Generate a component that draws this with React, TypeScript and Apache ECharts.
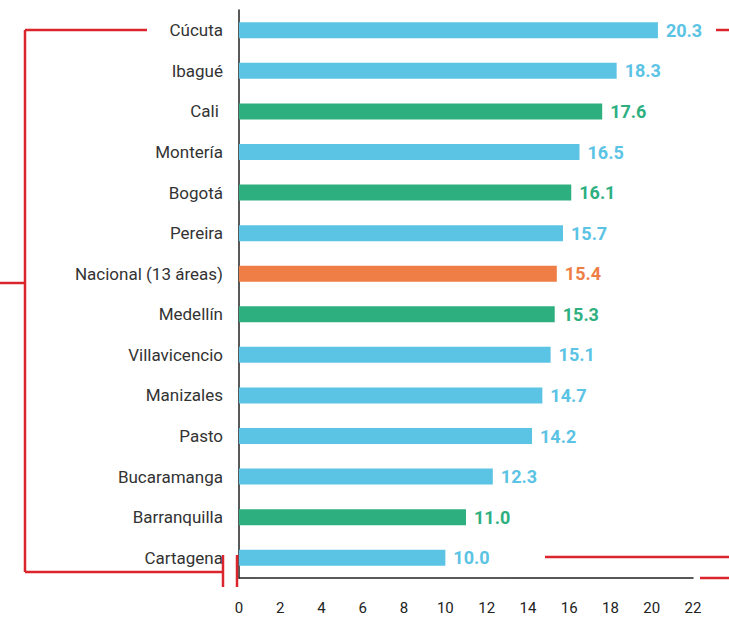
import React, { useEffect, useRef } from "react";
import * as echarts from "echarts";

const cities = [
  "Cúcuta",
  "Ibagué",
  "Cali ",
  "Montería",
  "Bogotá",
  "Pereira",
  "Nacional (13 áreas)",
  "Medellín",
  "Villavicencio",
  "Manizales",
  "Pasto",
  "Bucaramanga",
  "Barranquilla",
  "Cartagena",
];
const rates = [20.3, 18.3, 17.6, 16.5, 16.1, 15.7, 15.4, 15.3, 15.1, 14.7, 14.2, 12.3, 11.0, 10.0];
const groups = ["c", "c", "g", "c", "g", "c", "o", "g", "c", "c", "c", "c", "g", "c"];

const BLUE = "#5BC3E4";
const GREEN = "#2EAF7F";
const ORANGE = "#EE7E45";
const RED = "#D9252B";
const FONT = "Roboto";

const colorOf = (g: string) => (g === "g" ? GREEN : g === "o" ? ORANGE : BLUE);

export default function App() {
  const ref = useRef<HTMLDivElement>(null);
  useEffect(() => {
    if (!ref.current) return;
    const chart = echarts.init(ref.current, null, { renderer: "svg" });
    const redLine = (x1: number, y1: number, x2: number, y2: number) => ({
      type: "line",
      shape: { x1, y1, x2, y2 },
      style: { stroke: RED, lineWidth: 2.5 },
      z: 10,
    });
    chart.setOption({
      animation: false,
      grid: { left: 239, right: 36, top: 10, bottom: 39, containLabel: false },
      xAxis: {
        type: "value",
        min: 0,
        max: 22,
        interval: 2,
        splitLine: { show: false },
        axisTick: { show: false },
        axisLine: { show: true, lineStyle: { color: "#222", width: 1.5 } },
        axisLabel: { color: "#222", fontSize: 15, fontFamily: FONT, margin: 22 },
      },
      yAxis: {
        type: "category",
        data: cities,
        inverse: true,
        axisTick: { show: false },
        axisLine: { show: true, lineStyle: { color: "#222", width: 1.5 } },
        axisLabel: { color: "#333", fontSize: 17, fontFamily: FONT, margin: 16 },
      },
      series: [
        {
          type: "bar",
          barWidth: 16,
          data: rates.map((v, i) => ({
            value: v,
            itemStyle: { color: colorOf(groups[i]) },
            label: { color: colorOf(groups[i]) },
          })),
          label: {
            show: true,
            position: "right",
            distance: 8,
            fontSize: 18,
            fontWeight: "bold",
            fontFamily: FONT,
            formatter: (p: any) => Number(p.value).toFixed(1),
          },
        },
      ],
      graphic: [
        redLine(25, 30, 147, 30),
        redLine(25, 30, 25, 572),
        redLine(25, 572, 223, 572),
        redLine(0, 283, 25, 283),
        redLine(223, 555, 223, 587),
        redLine(237, 555, 237, 587),
        redLine(716, 30, 729, 30),
        redLine(545, 557, 729, 557),
        redLine(700, 578, 729, 578),
      ],
    });
    return () => chart.dispose();
  }, []);
  return <div ref={ref} style={{ width: 729, height: 617, position: "absolute", left: 0, top: 0 }} />;
}
